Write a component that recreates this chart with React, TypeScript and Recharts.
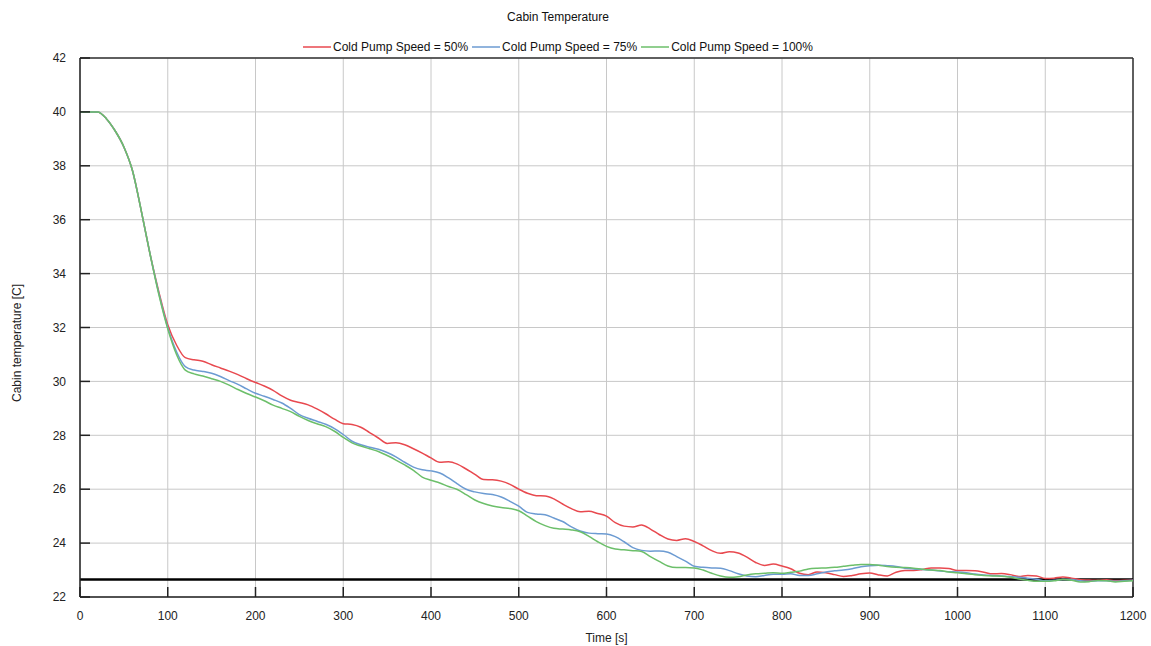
import React from "react"
import {
  CartesianGrid,
  Legend,
  Line,
  LineChart,
  ReferenceLine,
  XAxis,
  YAxis,
} from "recharts"

// sample times [s], one every 10 s
const TIME: number[] = Array.from({ length: 121 }, (_, i) => i * 10)

const SPEED_50 = [
  40, 40, 40, 39.75, 39.3, 38.7, 37.8, 36.3, 34.7, 33.3,
  32.1, 31.35, 30.88, 30.8, 30.75, 30.62, 30.5, 30.38, 30.25, 30.1,
  29.96, 29.83, 29.67, 29.46, 29.3, 29.22, 29.13, 28.98, 28.8, 28.6,
  28.43, 28.4, 28.3, 28.1, 27.9, 27.7, 27.72, 27.65, 27.5, 27.34,
  27.16, 27.0, 27.02, 26.93, 26.75, 26.55, 26.36, 26.35, 26.3, 26.18,
  26.0, 25.85, 25.76, 25.75, 25.64, 25.45, 25.28, 25.16, 25.18, 25.1,
  25.0, 24.76, 24.63, 24.6, 24.67, 24.52, 24.32, 24.15, 24.1, 24.16,
  24.06, 23.9, 23.72, 23.62, 23.68, 23.63, 23.48, 23.28, 23.17, 23.22,
  23.15, 23.05, 22.88, 22.83, 22.93, 22.9, 22.83, 22.76, 22.8, 22.86,
  22.89, 22.82, 22.78, 22.92, 22.98, 22.98, 23.02, 23.08, 23.08, 23.06,
  22.98, 22.98, 22.97, 22.92, 22.86, 22.87, 22.83, 22.76, 22.8, 22.78,
  22.69, 22.7, 22.74, 22.7, 22.64, 22.63, 22.62, 22.64, 22.61, 22.62, 22.62,
]

const SPEED_75 = [
  40, 40, 40, 39.75, 39.3, 38.7, 37.8, 36.3, 34.7, 33.25,
  32.0, 31.1, 30.55, 30.42, 30.37, 30.3, 30.18, 30.03, 29.89, 29.72,
  29.56, 29.45, 29.33, 29.2, 29.0, 28.77, 28.63, 28.52, 28.41, 28.25,
  28.03, 27.78, 27.65, 27.56, 27.48, 27.36, 27.2, 27.0, 26.82, 26.72,
  26.68, 26.6, 26.42, 26.2, 26.0, 25.9, 25.84, 25.8, 25.71, 25.55,
  25.37, 25.14, 25.08, 25.05, 24.93, 24.8, 24.6, 24.45, 24.37, 24.35,
  24.34, 24.24, 24.05, 23.83, 23.73, 23.7, 23.71, 23.66, 23.5, 23.33,
  23.14, 23.1, 23.08, 23.07, 22.98, 22.86, 22.78, 22.75, 22.8, 22.84,
  22.84, 22.86, 22.8, 22.8, 22.86, 22.93, 22.97, 23.0, 23.05, 23.12,
  23.16, 23.18, 23.16, 23.13, 23.07, 23.04, 23.02, 23.0, 22.96, 22.94,
  22.93, 22.9, 22.85, 22.82, 22.8, 22.78, 22.76, 22.73, 22.7, 22.66,
  22.6, 22.62, 22.65, 22.65, 22.6, 22.58, 22.6, 22.6, 22.58, 22.6, 22.62,
]

const SPEED_100 = [
  40, 40, 40, 39.75, 39.3, 38.7, 37.8, 36.3, 34.7, 33.2,
  31.95, 31.0, 30.42, 30.28, 30.2, 30.1, 30.0, 29.86, 29.7, 29.55,
  29.42, 29.28, 29.12, 29.0, 28.88, 28.7, 28.55, 28.43, 28.32, 28.15,
  27.92, 27.72, 27.6, 27.5, 27.4, 27.25, 27.08, 26.9, 26.7, 26.45,
  26.33, 26.23, 26.1, 25.99, 25.8, 25.6, 25.47, 25.38, 25.32, 25.28,
  25.2, 25.0, 24.8, 24.65, 24.55, 24.52, 24.49, 24.42, 24.25, 24.05,
  23.88, 23.78, 23.75, 23.72, 23.69, 23.5, 23.32, 23.15, 23.09, 23.09,
  23.08, 23.0, 22.88, 22.78, 22.73, 22.75, 22.82, 22.86, 22.88, 22.9,
  22.88, 22.92, 22.96, 23.04, 23.07, 23.08, 23.1, 23.14, 23.18, 23.21,
  23.21, 23.18, 23.13, 23.1, 23.09, 23.07, 23.03, 23.0, 22.98, 22.93,
  22.9, 22.86, 22.83, 22.8, 22.78, 22.77, 22.73, 22.67, 22.62, 22.58,
  22.58, 22.6, 22.65, 22.62, 22.56, 22.57, 22.61, 22.6, 22.56, 22.58, 22.6,
]

const TARGET_TEMP = 22.65

const X_TICKS = [0, 100, 200, 300, 400, 500, 600, 700, 800, 900, 1000, 1100, 1200]
const Y_TICKS = [22, 24, 26, 28, 30, 32, 34, 36, 38, 40, 42]

const SERIES = [
  { key: "s50", name: "Cold Pump Speed = 50%", color: "#e8494f" },
  { key: "s75", name: "Cold Pump Speed = 75%", color: "#6c9bd2" },
  { key: "s100", name: "Cold Pump Speed = 100%", color: "#6cbf6a" },
]

const FONT = '"Liberation Sans", Arial, sans-serif'

const chartData = TIME.map((t, i) => ({
  t,
  s50: SPEED_50[i],
  s75: SPEED_75[i],
  s100: SPEED_100[i],
}))

function ChartHeader() {
  return (
    <div style={{ width: 1116, textAlign: "center", fontFamily: FONT, fontSize: 12, color: "#111" }}>
      <div style={{ marginTop: 2, lineHeight: "20px" }}>Cabin Temperature</div>
      <div
        style={{
          marginTop: 10,
          lineHeight: "20px",
          display: "flex",
          justifyContent: "center",
          gap: 4,
        }}
      >
        {SERIES.map((s) => (
          <span key={s.key} style={{ display: "inline-flex", alignItems: "center" }}>
            <svg width={28} height={10}>
              <line x1={0} y1={5} x2={28} y2={5} stroke={s.color} strokeWidth={1.5} />
            </svg>
            <span style={{ marginLeft: 2 }}>{s.name}</span>
          </span>
        ))}
      </div>
    </div>
  )
}

export default function App() {
  return (
    <div style={{ position: "absolute", left: 0, top: 0, background: "#fff" }}>
      <LineChart
        width={1151}
        height={646}
        data={chartData}
        margin={{ top: 5, right: 18, bottom: 0, left: 0 }}
      >
        <CartesianGrid stroke="#c8c8c8" strokeWidth={1} />
        <XAxis
          dataKey="t"
          type="number"
          domain={[0, 1200]}
          ticks={X_TICKS}
          height={49}
          axisLine={{ stroke: "#222", strokeWidth: 1.5 }}
          tickLine={{ stroke: "#222", strokeWidth: 1.5 }}
          tickSize={-10}
          tickMargin={24}
          tick={{ fontSize: 12, fill: "#222", fontFamily: FONT }}
          label={{
            value: "Time [s]",
            position: "insideBottom",
            offset: 4,
            fontSize: 12,
            fill: "#222",
            fontFamily: FONT,
          }}
        />
        <YAxis
          type="number"
          domain={[22, 42]}
          ticks={Y_TICKS}
          width={80}
          axisLine={{ stroke: "#222", strokeWidth: 1.5 }}
          tickLine={{ stroke: "#222", strokeWidth: 1.5 }}
          tickSize={-10}
          tickMargin={24}
          tick={{ fontSize: 12, fill: "#222", fontFamily: FONT }}
          label={{
            content: () => (
              <text
                x={17}
                y={343}
                transform="rotate(-90 17 343)"
                textAnchor="middle"
                dominantBaseline="central"
                fontSize={12}
                fill="#222"
                fontFamily={FONT}
              >
                Cabin temperature [C]
              </text>
            ),
          }}
        />
        <Legend verticalAlign="top" height={53} content={() => <ChartHeader />} />
        <ReferenceLine y={42} stroke="#333" strokeWidth={1.5} />
        <ReferenceLine x={1200} stroke="#333" strokeWidth={1.5} />
        <ReferenceLine y={TARGET_TEMP} stroke="#000" strokeWidth={2.5} />
        {SERIES.map((s) => (
          <Line
            key={s.key}
            type="monotone"
            dataKey={s.key}
            name={s.name}
            stroke={s.color}
            strokeWidth={1.5}
            dot={false}
            isAnimationActive={false}
          />
        ))}
      </LineChart>
    </div>
  )
}
